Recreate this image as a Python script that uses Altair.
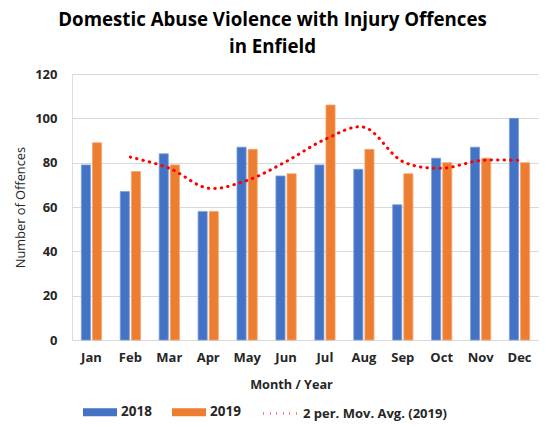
import altair as alt
import pandas as pd

months = ["Jan", "Feb", "Mar", "Apr", "May", "Jun", "Jul", "Aug", "Sep", "Oct", "Nov", "Dec"]
v2018 = [79, 67, 84, 58, 87, 74, 79, 77, 61, 82, 87, 100]
v2019 = [89, 76, 79, 58, 86, 75, 106, 86, 75, 80, 82, 80]
years = ["2018", "2019"]
trend_name = "2 per. Mov. Avg. (2019)"

rows = []
for i, m in enumerate(months):
    rows.append({"Month": m, "idx": i, "Year": "2018", "Value": v2018[i]})
    rows.append({"Month": m, "idx": i, "Year": "2019", "Value": v2019[i]})
df = pd.DataFrame(rows)

FONT = "Open Sans"
TXT = "#262626"

x_enc = alt.X("Month:N", sort=months,
              scale=alt.Scale(paddingInner=0.48, paddingOuter=0.24),
              axis=alt.Axis(title="Month / Year", labelAngle=0, labelFontWeight="bold",
                            labelFontSize=13, labelPadding=11, titleFontSize=12.7,
                            titleFontWeight="bold", titlePadding=14, ticks=False,
                            titleX=219, titleAlign="center",
                            domainColor="#d9d9d9", labelColor=TXT, titleColor=TXT))

bars = alt.Chart(df).mark_bar(strokeWidth=0.8).encode(
    x=x_enc,
    xOffset=alt.XOffset("Year:N", scale=alt.Scale(paddingInner=0.18)),
    y=alt.Y("Value:Q", scale=alt.Scale(domain=[0, 120]),
            axis=alt.Axis(values=[0, 20, 40, 60, 80, 100, 120], title="Number of Offences",
                          labelFontWeight="bold", labelFontSize=13, labelPadding=15,
                          titleFontSize=12.8, titleFontWeight="normal", titlePadding=7,
                          domain=False, ticks=False, gridColor="#d9d9d9",
                          labelColor=TXT, titleColor=TXT)),
    color=alt.Color("Year:N", scale=alt.Scale(domain=years, range=["#4472C4", "#ED7D31"]),
                    legend=alt.Legend(title=None, orient="none", legendX=11, legendY=321,
                                      direction="horizontal",
                                      symbolType="M-1,-0.235 L1,-0.235 L1,0.235 L-1,0.235 Z",
                                      symbolSize=1156, symbolStrokeWidth=0,
                                      labelFontSize=13.5, labelFontWeight="bold",
                                      labelColor=TXT, labelOffset=4, columnPadding=20,
                                      labelFont=FONT)),
    stroke=alt.Stroke("Year:N", scale=alt.Scale(domain=years, range=["#7aa0e0", "#f5a66e"]),
                      legend=None),
)

trend = alt.Chart(df).transform_filter(
    alt.datum.Year == "2019"
).transform_window(
    avg="mean(Value)", n="count()", frame=[-1, 0], sort=[{"field": "idx"}]
).transform_filter(
    alt.datum.n == 2
).transform_calculate(
    series=f"'{trend_name}'"
).mark_line(interpolate="catmull-rom", strokeDash=[0.5, 6], strokeCap="round",
            strokeWidth=3).encode(
    x=alt.X("Month:N", sort=months),
    y=alt.Y("avg:Q"),
    color=alt.Color("series:N", scale=alt.Scale(domain=[trend_name], range=["#FF0000"]),
                    legend=alt.Legend(title=None, orient="none", legendX=190, legendY=321,
                                      symbolType="stroke", symbolSize=1156,
                                      symbolStrokeWidth=3, symbolDash=[0.5, 6],
                                      labelFontSize=13, labelFontWeight="bold",
                                      labelColor=TXT, labelOffset=4, labelFont=FONT)),
    order="idx:Q",
)

chart = alt.layer(bars, trend).resolve_scale(color="independent", stroke="independent").properties(
    width=467, height=266,
    padding={"left": 64, "top": 66, "right": 0, "bottom": 84},
    autosize=alt.AutoSizeParams(type="none"),
    title=alt.TitleParams(text=["Domestic Abuse Violence with Injury Offences", "in Enfield"],
                          fontSize=18.7, fontWeight="bold", font=FONT, color="#000000",
                          anchor="middle", dx=-33, offset=11, lineHeight=27),
).configure_view(stroke=None).configure(font=FONT)

chart.save("out.html", embed_options={"renderer": "svg", "actions": False})
